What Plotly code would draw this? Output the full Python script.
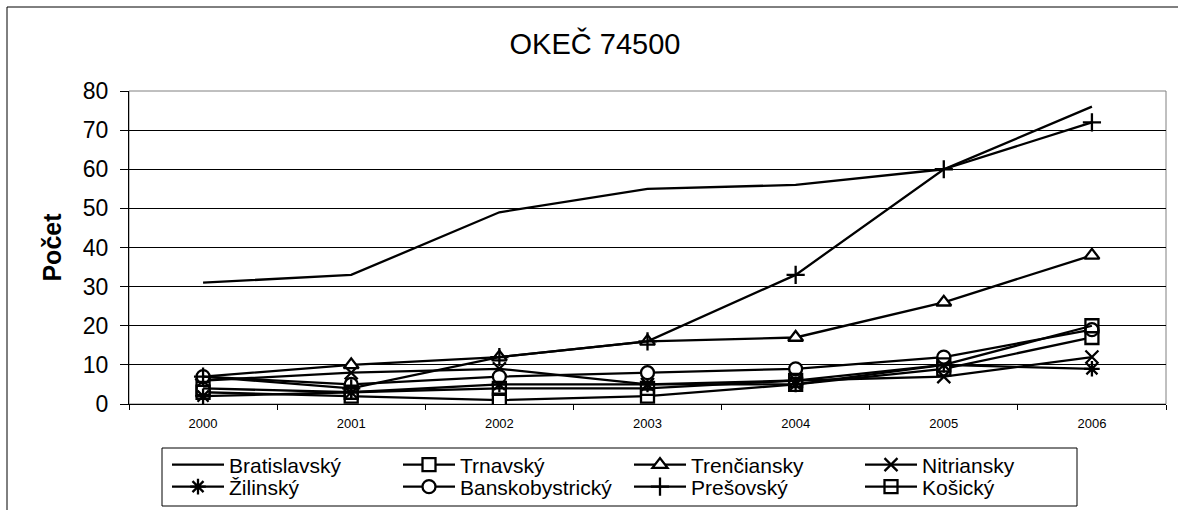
import plotly.graph_objects as go

years = ["2000", "2001", "2002", "2003", "2004", "2005", "2006"]
bratislavsky = [31, 33, 49, 55, 56, 60, 76]
trnavsky = [3, 2, 1, 2, 5, 9, 17]
trenciansky = [7, 10, 12, 16, 17, 26, 38]
nitriansky = [6, 8, 9, 5, 6, 7, 12]
zilinsky = [2, 3, 5, 5, 5, 10, 9]
banskobystricky = [7, 5, 7, 8, 9, 12, 19]
presovsky = [7, 4, 12, 16, 33, 60, 72]
kosicky = [4, 3, 4, 4, 6, 10, 20]

series = [
    ("Bratislavský", bratislavsky, None, "black"),
    ("Trnavský", trnavsky, "square", "white"),
    ("Trenčiansky", trenciansky, "triangle-up", "white"),
    ("Nitriansky", nitriansky, "x-thin", "black"),
    ("Žilinský", zilinsky, "asterisk", "black"),
    ("Banskobystrický", banskobystricky, "circle", "white"),
    ("Prešovský", presovsky, "cross-thin", "black"),
    ("Košický", kosicky, "square-open", "black"),
]

FONT = "Liberation Sans, Arial, sans-serif"

fig = go.Figure()
for i, (name, vals, sym, fill) in enumerate(series):
    leg = "legend" if i < 4 else "legend2"
    if sym is None:
        fig.add_trace(go.Scatter(x=years, y=vals, name=name, mode="lines",
                                 legend=leg,
                                 line=dict(color="black", width=2.3)))
    else:
        fig.add_trace(go.Scatter(
            x=years, y=vals, name=name, mode="lines+markers", legend=leg,
            line=dict(color="black", width=2.3),
            marker=dict(symbol=sym, size=13, color=fill,
                        line=dict(color="black", width=2.3))))

legend_common = dict(orientation="h", xref="container", yref="container",
                     x=167 / 1178, xanchor="left", yanchor="middle",
                     borderwidth=0, bgcolor="rgba(0,0,0,0)",
                     font=dict(size=21, family=FONT), entrywidth=164,
                     itemwidth=52, entrywidthmode="pixels", tracegroupgap=0)

fig.update_layout(
    width=1178, height=510,
    margin=dict(l=129, r=12, t=91, b=106),
    paper_bgcolor="white", plot_bgcolor="white",
    font=dict(family=FONT, color="black"),
    title=dict(text="OKEČ 74500", x=595 / 1178, xref="container", xanchor="center",
               y=1 - 44 / 510, yref="container", yanchor="middle",
               font=dict(size=29, family=FONT, color="black")),
    xaxis=dict(type="category", range=[-0.5, 6.5], tickson="boundaries",
               ticks="outside", ticklen=5, tickcolor="black",
               showline=True, linecolor="black", linewidth=1,
               showgrid=False, tickfont=dict(size=13), ticklabelstandoff=7,
               fixedrange=True),
    yaxis=dict(range=[0, 80], dtick=10, ticks="outside", ticklen=8,
               tickcolor="black", showline=True, linecolor="black",
               linewidth=1, showgrid=True, gridcolor="black", gridwidth=1,
               tickfont=dict(size=23), zeroline=False, ticklabelstandoff=7,
               title=dict(text="<b>Počet</b>", font=dict(size=25), standoff=14)),
    legend=dict(legend_common, y=1 - 465 / 510),
    legend2=dict(legend_common, y=1 - 487 / 510),
    showlegend=True,
)

# plot area border, outer chart border and legend box
fig.add_shape(type="rect", xref="paper", yref="paper", x0=0, x1=1, y0=0, y1=1,
              line=dict(color="#808080", width=1), layer="below")
fig.add_shape(type="rect", xref="paper", yref="paper",
              x0=(7 - 129) / 1037, x1=1.2, y0=-0.5, y1=(404 - 7) / 313,
              line=dict(color="black", width=1), layer="below")
fig.add_shape(type="rect", xref="paper", yref="paper",
              x0=(162 - 129) / 1037, x1=(1077 - 129) / 1037,
              y0=(404 - 506) / 313, y1=(404 - 448) / 313,
              line=dict(color="black", width=1), layer="below")

fig.write_html("out.html",
               config={"displayModeBar": False},
               post_script="document.body.style.margin='0';"
                           "document.body.style.overflow='hidden';")
